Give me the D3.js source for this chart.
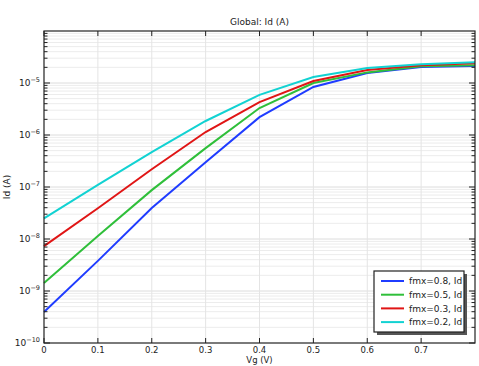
<!DOCTYPE html>
<html><head><meta charset="utf-8">
<script src="https://cdn.jsdelivr.net/npm/d3@7"></script>
<style>body{margin:0;background:#fff}svg{display:block;font-family:"DejaVu Sans",sans-serif}</style>
</head><body><svg id="c" width="479" height="366"></svg>
<script>
const vg = [0, 0.1, 0.2, 0.3, 0.4, 0.5, 0.6, 0.7, 0.8];
const fmx08 = [3.95e-10, 3.8e-9, 3.95e-8, 3.0e-7, 2.2e-6, 8.4e-6, 1.56e-5, 2.03e-5, 2.12e-5];
const fmx05 = [1.43e-9, 1.14e-8, 8.7e-8, 5.6e-7, 3.3e-6, 1.0e-5, 1.6e-5, 2.1e-5, 2.2e-5];
const fmx03 = [7.3e-9, 3.9e-8, 2.2e-7, 1.14e-6, 4.3e-6, 1.09e-5, 1.78e-5, 2.2e-5, 2.4e-5];
const fmx02 = [2.5e-8, 1.1e-7, 4.7e-7, 1.86e-6, 5.9e-6, 1.3e-5, 1.94e-5, 2.3e-5, 2.5e-5];
const seriesNames = ["fmx=0.8, Id", "fmx=0.5, Id", "fmx=0.3, Id", "fmx=0.2, Id"];
const seriesColors = ["#1f3cff", "#2fbf3a", "#e01515", "#12d2d2"];
const xTicks = [0, 0.1, 0.2, 0.3, 0.4, 0.5, 0.6, 0.7];
const yDecades = [-10, -9, -8, -7, -6, -5];
const title = "Global: Id (A)", xLabel = "Vg (V)", yLabel = "Id (A)";

const series = [fmx08, fmx05, fmx03, fmx02];
const L = 44, R = 475, T = 31, B = 343;
const svg = d3.select("#c");
const x = d3.scaleLinear().domain([0, 0.8]).range([L, R]);
const y = d3.scaleLog().domain([1e-10, 1e-4]).range([B, T]);

// grid
const minors = [];
for (let e = -10; e < -4; e++) for (let m = 1; m <= 9; m++) minors.push({v: m * Math.pow(10, e), major: m === 1});
const g = svg.append("g");
minors.forEach(d => {
  if (d.v <= 1e-10) return;
  g.append("line").attr("x1", L).attr("x2", R).attr("y1", y(d.v)).attr("y2", y(d.v))
   .attr("stroke", d.major ? "#dcdcdc" : "#ececec").attr("stroke-width", 1);
});
xTicks.forEach(t => {
  if (t === 0) return;
  g.append("line").attr("x1", x(t)).attr("x2", x(t)).attr("y1", T).attr("y2", B)
   .attr("stroke", "#e4e4e4");
});

// lines
const line = d3.line().x((d, i) => x(vg[i])).y(d => y(d));
series.forEach((s, i) => {
  svg.append("path").datum(s).attr("d", line).attr("fill", "none")
    .attr("stroke", seriesColors[i]).attr("stroke-width", 2);
});

// frame
svg.append("rect").attr("x", L).attr("y", T).attr("width", R - L).attr("height", B - T)
  .attr("fill", "none").attr("stroke", "#222").attr("stroke-width", 1.2);

// ticks
const tk = svg.append("g").attr("stroke", "#222").attr("stroke-width", 1);
minors.forEach(d => {
  const yy = y(d.v), len = d.major ? 6 : 3.5;
  tk.append("line").attr("x1", L).attr("x2", L + len).attr("y1", yy).attr("y2", yy);
  tk.append("line").attr("x1", R).attr("x2", R - len).attr("y1", yy).attr("y2", yy);
});
xTicks.forEach(t => {
  tk.append("line").attr("x1", x(t)).attr("x2", x(t)).attr("y1", B).attr("y2", B - 5);
  tk.append("line").attr("x1", x(t)).attr("x2", x(t)).attr("y1", T).attr("y2", T + 5);
});

// x tick labels
xTicks.forEach(t => {
  svg.append("text").attr("x", x(t)).attr("y", 352.5).attr("text-anchor", "middle")
    .attr("font-size", 8.5).attr("fill", "#222").text(t === 0 ? "0" : d3.format(".1f")(t));
});
// y tick labels
yDecades.forEach(e => {
  const t = svg.append("text").attr("x", 40).attr("y", y(Math.pow(10, e)) + 3)
    .attr("text-anchor", "end").attr("font-size", 9).attr("fill", "#222");
  t.append("tspan").text("10");
  t.append("tspan").attr("dy", -4).attr("font-size", 6.5).text("\u2212" + (-e));
});

svg.append("text").attr("x", (L + R) / 2).attr("y", 25).attr("text-anchor", "middle")
  .attr("font-size", 9).attr("fill", "#222").text(title);
svg.append("text").attr("x", (L + R) / 2).attr("y", 363).attr("text-anchor", "middle")
  .attr("font-size", 8.5).attr("fill", "#222").text(xLabel);
svg.append("text").attr("transform", `translate(10,${(T + B) / 2}) rotate(-90)`)
  .attr("text-anchor", "middle").attr("font-size", 9).attr("fill", "#222").text(yLabel);

// legend
const lg = svg.append("g");
lg.append("rect").attr("x", 377).attr("y", 274).attr("width", 90).attr("height", 61).attr("fill", "#555");
lg.append("rect").attr("x", 374).attr("y", 271).attr("width", 90).attr("height", 61)
  .attr("fill", "#fff").attr("stroke", "#222").attr("stroke-width", 1.2);
seriesNames.forEach((n, i) => {
  const yy = 281 + i * 13.7;
  lg.append("line").attr("x1", 381).attr("x2", 404).attr("y1", yy).attr("y2", yy)
    .attr("stroke", seriesColors[i]).attr("stroke-width", 2);
  lg.append("text").attr("x", 409).attr("y", yy + 3.2).attr("font-size", 9).attr("fill", "#222").text(n);
});
</script></body></html>
